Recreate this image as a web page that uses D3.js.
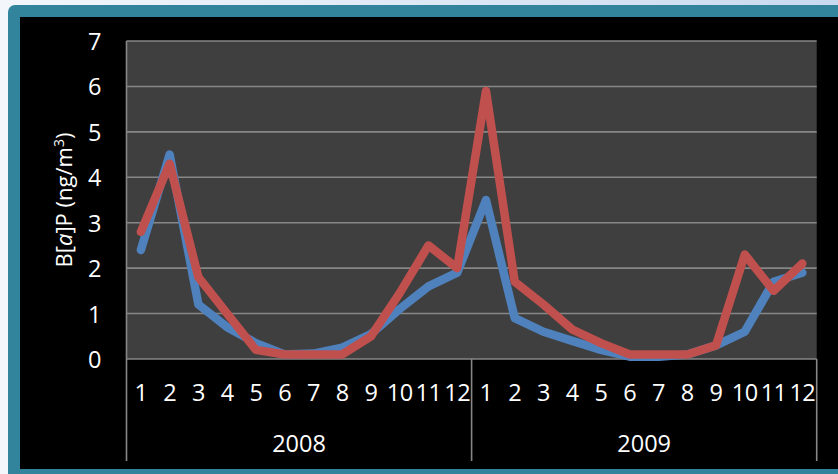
<!DOCTYPE html>
<html>
<head>
<meta charset="utf-8">
<script src="https://cdn.jsdelivr.net/npm/d3@7"></script>
<style>
  html, body { margin: 0; padding: 0; background: #dbe5f1; }
  svg { display: block; }
  text { font-family: "Open Sans", "Liberation Sans", sans-serif; fill: #ffffff; }
</style>
</head>
<body>
<script>
// Monthly B[a]P concentrations, two sampling series over 2008–2009
const years = ["2008", "2009"];
const monthLabels = ["1","2","3","4","5","6","7","8","9","10","11","12"];
const yTicks = [0, 1, 2, 3, 4, 5, 6, 7];

const seriesBlue = [2.4, 4.5, 1.2, 0.7, 0.35, 0.1, 0.12, 0.25, 0.55, 1.1, 1.6, 1.9,
                    3.5, 0.9, 0.6, 0.4, 0.2, 0.05, 0.05, 0.1, 0.3, 0.6, 1.7, 1.9];
const seriesRed  = [2.8, 4.3, 1.8, 1.0, 0.2, 0.1, 0.1, 0.1, 0.5, 1.45, 2.5, 2.0,
                    5.9, 1.7, 1.2, 0.65, 0.35, 0.1, 0.1, 0.1, 0.3, 2.3, 1.5, 2.1];

const W = 838, H = 474;
const plot = { left: 126.5, right: 816.7, top: 41, bottom: 359 };
const FONT = "'Open Sans', sans-serif";
const LABEL_SIZE = 23.5;

const svg = d3.select("body").append("svg").attr("width", W).attr("height", H);

// frame: light edge, teal border, black chart area
const defs = svg.append("defs");
const grad = defs.append("linearGradient").attr("id", "edge").attr("x1", 0).attr("x2", 1);
grad.append("stop").attr("offset", "0").attr("stop-color", "#f3f7fc");
grad.append("stop").attr("offset", "1").attr("stop-color", "#c9daef");
svg.append("rect").attr("width", W).attr("height", H).attr("fill", "url(#edge)");
svg.append("rect").attr("x", 8).attr("y", 5).attr("width", W + 20).attr("height", H + 20)
  .attr("rx", 7).attr("fill", "#31849b");
svg.append("rect").attr("x", 20).attr("y", 17).attr("width", W).attr("height", 452)
  .attr("fill", "#000000");

// category keys: year + month
const keys = [];
years.forEach(y => monthLabels.forEach(m => keys.push(y + "-" + m)));

const x = d3.scaleBand().domain(keys).range([plot.left, plot.right]).paddingInner(0).paddingOuter(0);
const y = d3.scaleLinear().domain([0, 7]).range([plot.bottom, plot.top]);
const cx = k => x(k) + x.bandwidth() / 2;

// plot background
svg.append("rect")
  .attr("x", plot.left).attr("y", plot.top)
  .attr("width", plot.right - plot.left).attr("height", plot.bottom - plot.top)
  .attr("fill", "#3f3f3f");

// horizontal gridlines
svg.append("g").selectAll("line").data(yTicks).join("line")
  .attr("x1", plot.left).attr("x2", plot.right)
  .attr("y1", d => y(d)).attr("y2", d => y(d))
  .attr("stroke", "#878787").attr("stroke-width", 1.6);

// y axis labels
const yAxis = d3.axisLeft(y).tickValues(yTicks).tickFormat(d3.format("d")).tickSize(0).tickPadding(0);
const gy = svg.append("g").attr("transform", `translate(${plot.left - 25},0)`).call(yAxis);
gy.select(".domain").remove();
gy.selectAll("text").attr("font-size", LABEL_SIZE).attr("fill", "#fff").attr("dy", "0.36em")
  .style("font-family", FONT);

// left axis line and group separators
const groupEdges = [plot.left, x(years[1] + "-1"), plot.right];
svg.append("g").selectAll("line").data(groupEdges).join("line")
  .attr("x1", d => d).attr("x2", d => d)
  .attr("y1", (d, i) => i === 0 ? plot.top : plot.bottom).attr("y2", 461)
  .attr("stroke", "#878787").attr("stroke-width", 1.6);

// month tick labels
const xAxis = d3.axisBottom(x).tickSize(0).tickPadding(0)
  .tickFormat(k => k.split("-")[1]);
const gx = svg.append("g").attr("transform", `translate(0,${393})`).call(xAxis);
gx.select(".domain").remove();
gx.selectAll("text").attr("font-size", LABEL_SIZE).attr("fill", "#fff").attr("dy", "0.36em")
  .attr("letter-spacing", "-0.5px")
  .style("font-family", FONT);

// year labels
svg.append("g").selectAll("text").data(years).join("text")
  .attr("x", (d, i) => (groupEdges[i] + groupEdges[i + 1]) / 2)
  .attr("y", 444).attr("dy", "0.36em")
  .attr("text-anchor", "middle").attr("font-size", LABEL_SIZE)
  .style("font-family", FONT)
  .text(d => d);

// y axis title
const title = svg.append("text")
  .attr("transform", "translate(64,200) rotate(-90)")
  .attr("text-anchor", "middle").attr("dy", "0.36em").attr("font-size", 22)
  .style("font-family", FONT);
title.append("tspan").text("B[");
title.append("tspan").attr("font-style", "italic").text("a");
title.append("tspan").text("]P (ng/m");
title.append("tspan").attr("font-size", 14).attr("dy", "-0.55em").text("3");
title.append("tspan").attr("dy", "0.35em").text(")");

// data lines
const line = d3.line().x((d, i) => cx(keys[i])).y(d => y(d));
[[seriesBlue, "#4f81bd"], [seriesRed, "#c0504d"]].forEach(([vals, col]) => {
  svg.append("path").datum(vals)
    .attr("d", line)
    .attr("fill", "none").attr("stroke", col).attr("stroke-width", 8.5)
    .attr("stroke-linejoin", "round").attr("stroke-linecap", "round");
});
</script>
</body>
</html>
